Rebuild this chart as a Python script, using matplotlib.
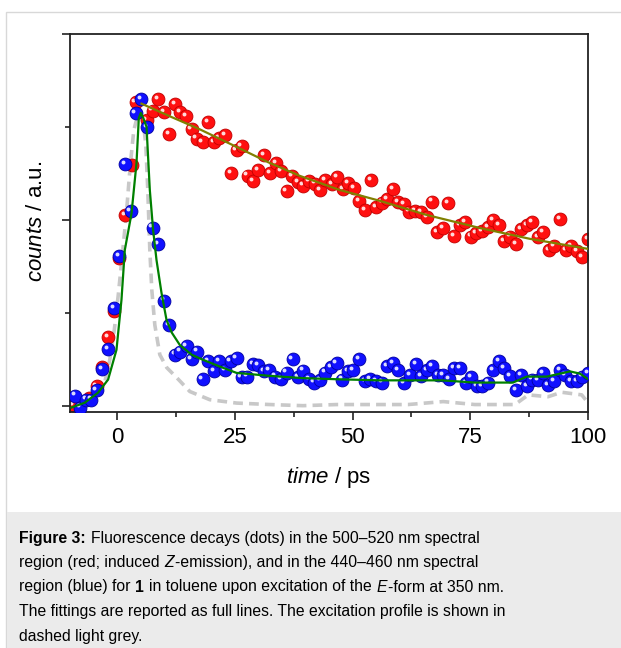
import matplotlib
matplotlib.use("Agg")
import matplotlib.pyplot as plt
import matplotlib.transforms as mtransforms
from matplotlib.patches import Rectangle
from matplotlib.ticker import MultipleLocator

plt.rcParams['font.family'] = ['Liberation Sans', 'DejaVu Sans']
plt.rcParams['mathtext.fontset'] = 'custom'
plt.rcParams['mathtext.rm'] = 'Liberation Sans'
plt.rcParams['mathtext.it'] = 'Liberation Sans:italic'
plt.rcParams['mathtext.bf'] = 'Liberation Sans:bold'

# blue dots, 440-460 nm
t_blue = [-8.99, -7.92, -6.69, -5.52, -4.36, -3.14, -1.91, -0.70, 0.42, 1.64,
          2.85, 3.91, 5.18, 6.37, 7.52, 8.71, 9.92, 11.05, 12.26, 13.32,
          14.74, 15.81, 17.00, 18.14, 19.33, 20.54, 21.67, 22.88, 24.09, 25.37,
          26.43, 27.62, 28.89, 29.96, 31.23, 32.29, 33.50, 34.78, 35.99, 37.26,
          38.33, 39.52, 40.73, 41.85, 43.06, 44.13, 45.40, 46.61, 47.80, 48.95,
          50.14, 51.41, 52.62, 53.69, 54.90, 56.17, 57.36, 58.64, 59.70, 60.97,
          62.18, 63.40, 64.52, 65.73, 66.92, 68.07, 69.26, 70.47, 71.60, 72.81,
          74.02, 75.14, 76.35, 77.42, 78.69, 79.88, 81.09, 82.22, 83.43, 84.64,
          85.77, 86.98, 88.17, 89.31, 90.50, 91.57, 92.84, 94.05, 95.11, 96.39,
          97.60, 98.79, 99.94]
y_blue = [0.029, -0.003, 0.018, 0.018, 0.043, 0.100, 0.154, 0.263, 0.404, 0.651,
          0.525, 0.787, 0.825, 0.749, 0.480, 0.435, 0.284, 0.218, 0.139, 0.147,
          0.161, 0.127, 0.147, 0.073, 0.121, 0.094, 0.121, 0.098, 0.121, 0.130,
          0.079, 0.080, 0.114, 0.110, 0.094, 0.098, 0.080, 0.073, 0.091, 0.128,
          0.079, 0.096, 0.074, 0.064, 0.070, 0.091, 0.106, 0.116, 0.072, 0.094,
          0.098, 0.128, 0.067, 0.073, 0.067, 0.064, 0.109, 0.116, 0.098, 0.063,
          0.085, 0.114, 0.082, 0.098, 0.109, 0.085, 0.085, 0.073, 0.103, 0.103,
          0.063, 0.079, 0.054, 0.054, 0.064, 0.097, 0.121, 0.103, 0.082, 0.043,
          0.085, 0.054, 0.072, 0.070, 0.090, 0.058, 0.067, 0.098, 0.085, 0.067,
          0.067, 0.080, 0.090]

# red dots, 500-520 nm
t_red = [-9.35, -5.95, -4.36, -3.12, -1.91, -0.70, 0.42, 1.64, 3.06, 3.91,
         6.25, 7.52, 8.71, 9.92, 11.05, 12.26, 13.43, 14.60, 15.81, 16.87,
         18.14, 19.33, 20.54, 21.67, 22.88, 24.16, 25.37, 26.43, 27.70, 28.89,
         29.96, 31.27, 32.44, 33.72, 34.84, 35.99, 37.22, 38.33, 39.52, 40.77,
         41.94, 43.13, 44.23, 45.55, 46.74, 47.89, 49.08, 50.29, 51.41, 52.62,
         53.90, 54.96, 56.17, 57.36, 58.57, 59.70, 60.91, 62.03, 63.25, 64.46,
         65.73, 66.80, 67.98, 69.13, 70.32, 71.60, 72.81, 73.87, 75.08, 76.21,
         77.42, 78.69, 79.88, 81.03, 82.22, 83.43, 84.64, 85.77, 86.98, 88.17,
         89.31, 90.50, 91.71, 92.84, 94.05, 95.26, 96.39, 97.60, 98.79, 99.94]
y_red = [0.003, 0.023, 0.055, 0.106, 0.187, 0.255, 0.398, 0.514, 0.648, 0.818,
         0.769, 0.794, 0.825, 0.791, 0.731, 0.812, 0.790, 0.779, 0.745, 0.719,
         0.710, 0.763, 0.710, 0.720, 0.729, 0.627, 0.689, 0.698, 0.620, 0.606,
         0.635, 0.674, 0.626, 0.653, 0.631, 0.578, 0.618, 0.603, 0.593, 0.604,
         0.598, 0.580, 0.608, 0.596, 0.615, 0.584, 0.599, 0.586, 0.551, 0.527,
         0.608, 0.536, 0.547, 0.556, 0.584, 0.548, 0.543, 0.523, 0.525, 0.521,
         0.509, 0.550, 0.468, 0.478, 0.545, 0.458, 0.487, 0.494, 0.456, 0.466,
         0.471, 0.481, 0.501, 0.487, 0.444, 0.456, 0.435, 0.476, 0.487, 0.494,
         0.454, 0.467, 0.420, 0.431, 0.502, 0.420, 0.431, 0.417, 0.401, 0.450]

# fit of the blue decay (green)
t_gfit = [-9.69, -6.86, -4.04, -1.91, -0.13, 0.93, 1.64, 3.06, 4.12, 4.61,
          5.04, 5.57, 6.25, 6.95, 7.65, 8.37, 9.43, 10.50, 11.62, 13.32,
          15.81, 18.27, 21.82, 25.37, 32.44, 39.45, 46.61, 55.81, 68.92, 75.99,
          84.07, 86.98, 91.23, 96.18, 98.30, 100.06]
y_gfit = [-0.003, 0.010, 0.037, 0.072, 0.152, 0.286, 0.420, 0.518, 0.653, 0.774,
          0.788, 0.774, 0.751, 0.581, 0.474, 0.393, 0.305, 0.232, 0.198, 0.165,
          0.139, 0.125, 0.107, 0.090, 0.082, 0.076, 0.073, 0.070, 0.070, 0.064,
          0.064, 0.080, 0.080, 0.094, 0.088, 0.073]

# fit of the red decay (olive)
t_ofit = [5.18, 11.20, 17.57, 25.01, 32.02, 38.82, 47.31, 55.81, 65.79, 77.05,
          87.67, 100.0]
y_ofit = [0.813, 0.779, 0.744, 0.699, 0.656, 0.619, 0.581, 0.552, 0.514, 0.479,
          0.450, 0.423]

# excitation profile (dashed grey)
t_exc = [-9.69, -6.86, -4.38, -2.61, -1.55, -0.59, 0.25, 1.00, 1.95, 2.80,
         3.55, 4.29, 4.93, 5.57, 6.10, 6.52, 6.95, 7.37, 8.01, 9.07,
         10.56, 12.68, 15.45, 19.69, 25.37, 32.44, 39.45, 46.61, 55.81, 61.76,
         69.26, 75.99, 84.49, 87.32, 91.50, 94.41, 98.66, 100.06]
y_exc = [-0.009, 0.000, 0.023, 0.066, 0.125, 0.206, 0.299, 0.393, 0.514, 0.648,
         0.742, 0.777, 0.783, 0.763, 0.702, 0.581, 0.420, 0.313, 0.219, 0.139,
         0.104, 0.077, 0.040, 0.018, 0.009, 0.005, 0.002, 0.005, 0.005, 0.005,
         0.013, 0.005, 0.005, 0.031, 0.026, 0.038, 0.031, 0.009]

# caption, one list of (text, weight, style) pieces per line
N, B, I = ('normal', 'normal'), ('bold', 'normal'), ('normal', 'italic')
caption_lines = [
    [("Figure 3:", B), (" Fluorescence decays (dots) in the 500–520 nm spectral", N)],
    [("region (red; induced ", N), ("Z", I), ("-emission), and in the 440–460 nm spectral", N)],
    [("region (blue) for ", N), ("1", B), (" in toluene upon excitation of the ", N),
     ("E", I), ("-form at 350 nm.", N)],
    [("The fittings are reported as full lines. The excitation profile is shown in", N)],
    [("dashed light grey.", N)],
]

fig = plt.figure(figsize=(6.21, 6.48), dpi=100)
W, H = 621.0, 648.0

# outer frame and caption box
fig.patches.append(Rectangle((6 / W, -0.01), 1, 1.01 - 12 / H, transform=fig.transFigure,
                             facecolor='white', edgecolor='#d8d8d8', lw=1.0, zorder=-2))
fig.patches.append(Rectangle((6.5 / W, 0), 1, 1 - 512 / H, transform=fig.transFigure,
                             facecolor='#ebebeb', edgecolor='none', zorder=-1))

ax = fig.add_axes([70 / W, 1 - 412 / H, 518 / W, 378 / H])
ax.set_zorder(2)


def balls(t, y, color, edge, z):
    hl = mtransforms.offset_copy(ax.transData, fig=fig, x=-1.5, y=1.6, units='points')
    for ti, yi in zip(t, y):
        ax.scatter([ti], [yi], s=86, color=color, edgecolors=edge, linewidths=0.6, zorder=z)
        ax.scatter([ti], [yi], s=8, color='white', alpha=0.85, linewidths=0,
                   transform=hl, zorder=z)


ax.plot(t_exc, y_exc, color='#c8c8c8', lw=2.6, ls=(0, (2.7, 1.7)), zorder=1)
balls(t_red, y_red, '#ff1010', '#c00000', 2)
balls(t_blue, y_blue, '#1010ff', '#0000a0', 3)
ax.plot(t_ofit, y_ofit, color='#808000', lw=1.6, zorder=5)
ax.plot(t_gfit, y_gfit, color='#008000', lw=1.6, zorder=5)

ax.set_xlim(-10, 100)
ax.set_ylim(-0.015, 1.0)
ax.xaxis.set_major_locator(MultipleLocator(25))
ax.xaxis.set_minor_locator(MultipleLocator(12.5))
ax.yaxis.set_major_locator(MultipleLocator(0.5))
ax.yaxis.set_minor_locator(MultipleLocator(0.25))
ax.tick_params(which='both', direction='out', color='#222222', width=1.2,
               top=False, right=False)
ax.tick_params(which='major', length=6)
ax.tick_params(which='minor', length=3.5)
ax.tick_params(axis='x', labelsize=16, pad=5)
ax.tick_params(axis='y', labelleft=False)
for s in ax.spines.values():
    s.set_linewidth(1.3)
    s.set_color('#222222')

fig.text(329 / W, 1 - 478 / H, r"$\mathit{time}$ / ps", fontsize=16,
         ha='center', va='center')
fig.text(37 / W, 1 - 221 / H, r"$\mathit{counts}$ / a.u.", fontsize=16,
         rotation=90, ha='center', va='center')

# caption drawn piece by piece so bold / italic parts sit inline
renderer = fig.canvas.get_renderer()
cap_size = 11.3
space_px = 0.278 * cap_size * fig.dpi / 72
for i, parts in enumerate(caption_lines):
    x = 19.0
    yb = 542.5 + 24.5 * i
    for s, (w, st) in parts:
        lead = len(s) - len(s.lstrip(' '))
        trail = len(s) - len(s.rstrip(' '))
        x += lead * space_px
        t = fig.text(x / W, 1 - yb / H, s.strip(' '), fontsize=cap_size,
                     fontweight=w, fontstyle=st, ha='left', va='baseline',
                     color='#000000')
        x += t.get_window_extent(renderer).width + 0.6 + trail * space_px

fig.savefig('out.png', dpi=100)
